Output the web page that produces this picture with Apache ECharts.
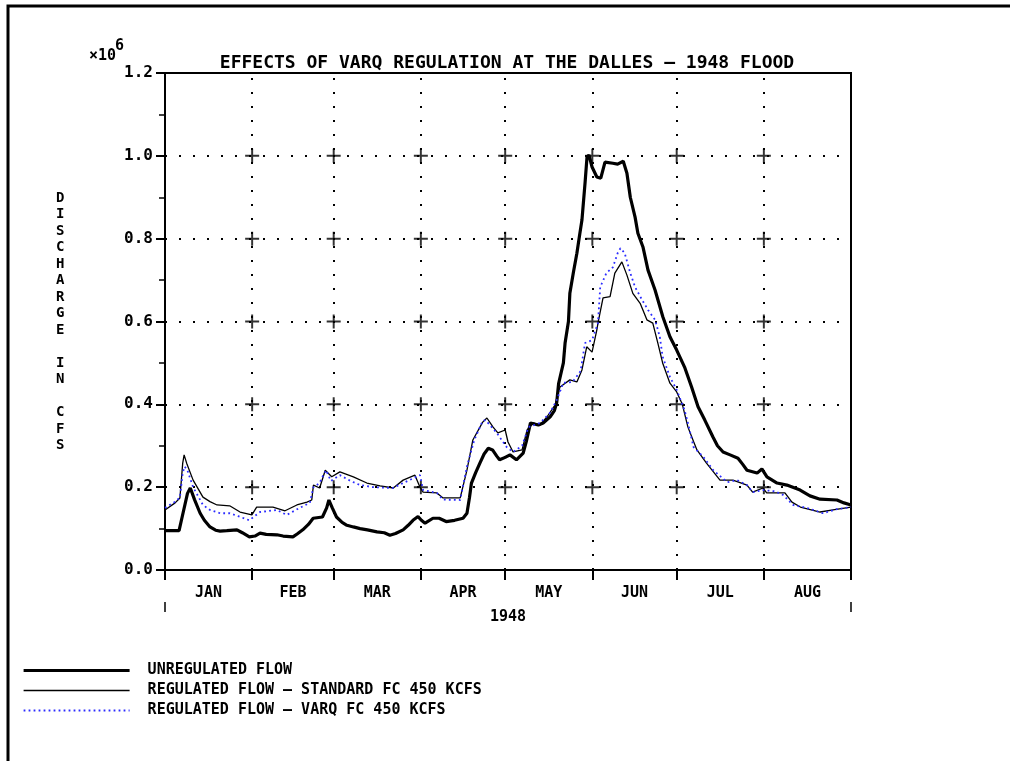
<!DOCTYPE html>
<html>
<head>
<meta charset="utf-8">
<script src="https://cdn.jsdelivr.net/npm/echarts@6/dist/echarts.min.js"></script>
<style>
html,body{margin:0;padding:0;background:#fff;}
#chart{width:1010px;height:761px;}
</style>
</head>
<body>
<div id="chart"></div>
<script>
// ---- data (day of year 1948, Jan 1 = 0; values in millions of cfs) ----
const monthNames = ['JAN','FEB','MAR','APR','MAY','JUN','JUL','AUG'];
const monthStarts = [0,31,60,91,121,152,182,213,244];
const yTicks = [0.0,0.2,0.4,0.6,0.8,1.0,1.2];
const gridLevels = [0.2,0.4,0.6,0.8,1.0];
const yearLabel = '1948';

const unregDays = [0,5,6.5,8,9,10.5,12.5,14,16,18,19.6,22,25.6,27.5,30,32,33.8,36,39.8,42,45.5,47,49,51,52.7,56,57.5,58.3,59.5,61,63,64.7,67,69.4,72,75.4,78,80,82,84.7,86.5,88.2,90,91.2,92.5,95.3,97.5,100,103,106,107.4,108.3,109,110.5,112,113.5,115,116.5,118,119,121,122.7,125,127.4,128.5,130,132.8,134.5,137,138.5,139.3,140,141.7,142.3,143.5,144,145.3,146.5,147.5,148.3,149.4,150.1,150.8,151.9,153.6,155,156.5,159.3,161,163,164.3,165.5,167.2,168.2,170,171.8,174.3,177.1,179.6,182,184.8,187.3,189.6,192,194.9,196.5,198.5,201,203.8,205.5,207,210.6,212.3,214.1,217.7,221.2,225.9,229.4,233,239,241.5,244];
const unregVals = [0.095,0.095,0.14,0.185,0.198,0.17,0.137,0.12,0.104,0.096,0.094,0.095,0.097,0.09,0.08,0.082,0.089,0.086,0.085,0.082,0.08,0.087,0.097,0.11,0.125,0.128,0.15,0.169,0.15,0.128,0.115,0.108,0.104,0.1,0.097,0.092,0.09,0.084,0.088,0.097,0.108,0.12,0.129,0.12,0.113,0.125,0.125,0.117,0.12,0.125,0.137,0.175,0.21,0.235,0.258,0.28,0.294,0.29,0.275,0.266,0.272,0.278,0.266,0.282,0.31,0.355,0.35,0.355,0.37,0.385,0.403,0.45,0.5,0.548,0.6,0.668,0.72,0.765,0.81,0.845,0.934,0.997,1.002,0.973,0.949,0.946,0.985,0.982,0.98,0.987,0.958,0.9,0.852,0.813,0.78,0.724,0.676,0.611,0.563,0.531,0.49,0.442,0.394,0.362,0.321,0.3,0.285,0.278,0.27,0.255,0.241,0.234,0.244,0.225,0.21,0.205,0.193,0.179,0.171,0.169,0.162,0.157];

const stdDays = [0,3.6,5.3,6.3,6.8,7.7,10,13.5,16,18.5,23,26.7,30.9,32.6,38.4,42.7,46.9,50.5,52.2,52.8,55,57,59.3,62.2,67,71.8,76.5,81.2,84.7,88.9,90.7,91.8,96.7,98.9,105,107.4,109.5,113,114.5,116.7,118.4,121,122,123.8,127,128.8,131,133.4,135.9,138.7,140.5,144,146.5,148.3,150,151.9,153.6,154,155.8,158.3,160,162.5,164.3,166.4,169,171.4,173.5,175.3,177,179.6,182,184,186,188,189.2,192.6,197.4,202,207,209,212.7,214,217.7,220.5,223,226,233,237.6,244];
const stdVals = [0.145,0.162,0.174,0.258,0.278,0.258,0.217,0.176,0.165,0.157,0.155,0.14,0.133,0.152,0.152,0.143,0.157,0.164,0.169,0.205,0.198,0.241,0.225,0.237,0.225,0.21,0.203,0.198,0.217,0.229,0.2,0.188,0.186,0.174,0.174,0.241,0.314,0.357,0.367,0.345,0.331,0.338,0.309,0.285,0.29,0.338,0.355,0.35,0.37,0.398,0.442,0.459,0.454,0.483,0.539,0.526,0.58,0.596,0.657,0.66,0.717,0.744,0.712,0.668,0.644,0.604,0.596,0.548,0.5,0.451,0.43,0.4,0.345,0.31,0.29,0.258,0.217,0.217,0.205,0.188,0.198,0.186,0.186,0.186,0.164,0.152,0.14,0.145,0.152];

const varqDays = [0,3.6,5.3,6.3,7,8,10,13.5,16,19.6,23,26,30,33.8,39.8,43.3,47.9,51.5,52.8,55,56,57.3,59,62.2,66,69.4,74,81,84.7,90.7,91.8,96.7,98.9,105,107.4,110,113,114,118,121.5,123.8,127,129.3,133.4,137,139.3,141.7,145,147.8,149.4,151.9,154,154.8,157,159.3,161,162,163.5,165.5,167.2,169.7,171.8,174.3,176,177,179.6,182,184.8,186,188,191.5,195,200,203.5,207,209,212.7,217,219.9,223.4,228.3,234,239,244];
const varqVals = [0.15,0.165,0.175,0.235,0.25,0.24,0.2,0.157,0.145,0.137,0.137,0.13,0.12,0.14,0.145,0.133,0.15,0.162,0.2,0.21,0.225,0.241,0.215,0.229,0.215,0.205,0.2,0.198,0.21,0.229,0.193,0.186,0.17,0.169,0.25,0.314,0.36,0.362,0.331,0.297,0.285,0.3,0.345,0.355,0.38,0.41,0.452,0.454,0.48,0.548,0.555,0.596,0.683,0.717,0.731,0.765,0.777,0.765,0.717,0.683,0.652,0.628,0.604,0.563,0.515,0.466,0.435,0.386,0.355,0.297,0.273,0.241,0.212,0.217,0.205,0.188,0.193,0.19,0.181,0.157,0.15,0.137,0.147,0.152];

const seriesNames = ['UNREGULATED FLOW','REGULATED FLOW \u2013 STANDARD FC 450 KCFS','REGULATED FLOW \u2013 VARQ FC 450 KCFS'];
const titleText = 'EFFECTS OF VARQ REGULATION AT THE DALLES \u2013 1948 FLOOD';
const yNameLetters = ['D','I','S','C','H','A','R','G','E','','I','N','','C','F','S'];

// ---- build ----
const zip = (d, v) => d.map((x, i) => [x, v[i]]);
const midMonths = monthNames.map((m, i) => (monthStarts[i] + monthStarts[i + 1]) / 2);
const crossData = [];
monthStarts.slice(1, -1).forEach(d => gridLevels.forEach(v => crossData.push([d, v])));

const styles = [
  {color: '#000', width: 3.2, type: 'solid'},
  {color: '#000', width: 1.3, type: 'solid'},
  {color: '#2b2bff', width: 1.8, type: [1.8, 3.2]}
];

const FONT = 'DejaVu Sans Mono';
const chart = echarts.init(document.getElementById('chart'), null, {renderer: 'canvas'});
chart.setOption({
  animation: false,
  backgroundColor: '#fff',
  title: {
    text: titleText, left: 507, top: 54, textAlign: 'center', padding: 0,
    textStyle: {fontFamily: FONT, fontWeight: 'bold', fontSize: 18, color: '#000'}
  },
  grid: {left: 165, right: 159, top: 73, bottom: 191, show: true, borderColor: '#000', borderWidth: 2, backgroundColor: 'transparent'},
  legend: {
    data: seriesNames.map((n, i) => ({name: n, lineStyle: {width: styles[i].width, color: styles[i].color, type: styles[i].type}})),
    orient: 'vertical', left: 22, top: 663, padding: 0,
    itemWidth: 106, itemHeight: 14, itemGap: 5,
    itemStyle: {opacity: 0},
    textStyle: {fontFamily: FONT, fontWeight: 'bold', fontSize: 15, color: '#000', padding: [0, 0, 0, 13]},
    selectedMode: false
  },
  xAxis: [{
    type: 'value', min: 0, max: 244,
    name: yearLabel, nameLocation: 'middle', nameGap: 40,
    nameTextStyle: {fontFamily: FONT, fontWeight: 'bold', fontSize: 15, color: '#000'},
    axisLine: {show: true, lineStyle: {color: '#000', width: 2}},
    axisTick: {show: true, customValues: monthStarts, length: 10, inside: false, lineStyle: {color: '#000', width: 2}},
    axisLabel: {
      customValues: midMonths, margin: 16,
      fontFamily: FONT, fontWeight: 'bold', fontSize: 15, color: '#000',
      formatter: v => {
        let best = 0;
        midMonths.forEach((m, i) => { if (Math.abs(m - v) < Math.abs(midMonths[best] - v)) best = i; });
        return monthNames[best];
      }
    },
    splitLine: {show: false}
  }, {
    type: 'value', min: 0, max: 244, position: 'bottom', offset: 32,
    axisLine: {show: false},
    axisTick: {show: true, customValues: [0, 244], length: 10, lineStyle: {color: '#000', width: 1.5}},
    axisLabel: {show: false},
    splitLine: {show: false}
  }],
  yAxis: {
    type: 'value', min: 0, max: 1.2, interval: 0.2,
    axisLine: {show: true, lineStyle: {color: '#000', width: 2}},
    axisTick: {show: true, length: 9, lineStyle: {color: '#000', width: 2}},
    minorTick: {show: true, splitNumber: 2, length: 6, lineStyle: {color: '#000', width: 1.5}},
    axisLabel: {
      margin: 12, fontFamily: FONT, fontWeight: 'bold', fontSize: 16, color: '#000',
      formatter: v => v.toFixed(1)
    },
    splitLine: {show: true, lineStyle: {color: '#000', width: 2, type: [2, 12]}}
  },
  graphic: [
    {type: 'polyline', shape: {points: [[8, 761], [8, 6], [1010, 6]]}, style: {stroke: '#000', lineWidth: 3, fill: null}, silent: true},
    {type: 'text', left: 89, top: 49, style: {text: '\u00d710', font: 'bold 15px "DejaVu Sans Mono"', fill: '#000'}},
    {type: 'text', left: 115, top: 39, style: {text: '6', font: 'bold 15px "DejaVu Sans Mono"', fill: '#000'}},
    {type: 'text', left: 56, top: 190, style: {text: yNameLetters.join('\n'), font: 'bold 14px "DejaVu Sans Mono"', lineHeight: 16.5, fill: '#000', align: 'left'}}
  ],
  series: [
    {
      type: 'line', xAxisIndex: 0, data: [], silent: true,
      markLine: {
        silent: true, symbol: 'none', label: {show: false},
        lineStyle: {color: '#000', width: 2, type: [2, 12]},
        data: monthStarts.slice(1, -1).map(d => ({xAxis: d}))
      }
    },
    {
      type: 'scatter', data: crossData, symbol: 'path://M4.3,0H5.7V4.3H10V5.7H5.7V10H4.3V5.7H0V4.3H4.3Z',
      symbolSize: 14, itemStyle: {color: '#000'}, silent: true, z: 3
    },
    {
      name: seriesNames[0], type: 'line', data: zip(unregDays, unregVals), symbol: 'none',
      lineStyle: styles[0], itemStyle: {color: styles[0].color}, z: 4
    },
    {
      name: seriesNames[1], type: 'line', data: zip(stdDays, stdVals), symbol: 'none',
      lineStyle: styles[1], itemStyle: {color: styles[1].color}, z: 5
    },
    {
      name: seriesNames[2], type: 'line', data: zip(varqDays, varqVals), symbol: 'none',
      lineStyle: styles[2], itemStyle: {color: styles[2].color}, z: 6
    }
  ]
});
</script>
</body>
</html>
